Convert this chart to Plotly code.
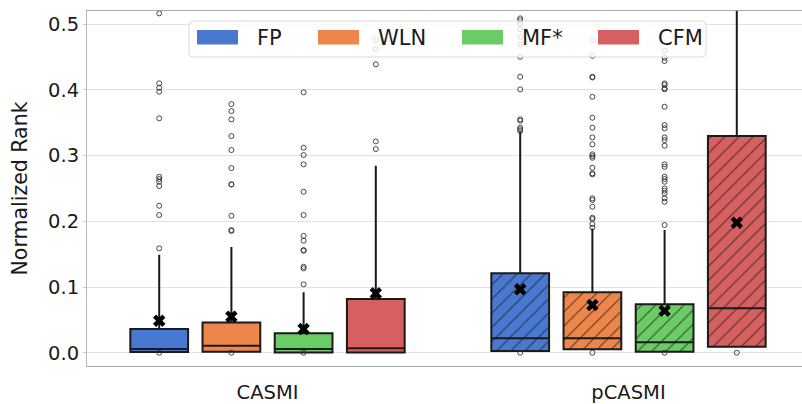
import plotly.graph_objects as go

# ---------------- data ----------------
groups = ["CASMI", "pCASMI"]
series = ["FP", "WLN", "MF*", "CFM"]
colors = ["#4878d0", "#ee854a", "#6acc64", "#d65f5f"]
y_ticks = [0.0, 0.1, 0.2, 0.3, 0.4, 0.5]

# box statistics, indexed [series][group]
q1_vals = [[0.001, 0.0026], [0.0015, 0.0052], [0.0005, 0.0015], [0.0005, 0.0091]]
median_vals = [[0.0056, 0.0219], [0.0107, 0.0219], [0.0056, 0.0158], [0.0067, 0.0676]]
q3_vals = [[0.036, 0.1208], [0.046, 0.0919], [0.0295, 0.0737], [0.0817, 0.3298]]
lower_whisker = [[0.001, 0.0026], [0.0015, 0.0052], [0.0005, 0.0015], [0.0005, 0.0091]]
upper_whisker = [[0.149, 0.3364], [0.161, 0.1893], [0.092, 0.1868], [0.2846, 0.85]]
mean_vals = [[0.0487, 0.0965], [0.0548, 0.0726], [0.036, 0.0639], [0.0904, 0.1979]]

fp_outliers = [
    [0.0, 0.1589, 0.2096, 0.2237, 0.2538, 0.2603, 0.2644, 0.2679, 0.3568, 0.3973, 0.4034, 0.4101, 0.5166],
    [0.0, 0.3375, 0.34, 0.3425, 0.3531, 0.3553, 0.4009, 0.42, 0.4505, 0.4693, 0.481, 0.4925, 0.501, 0.506, 0.509],
]
wln_outliers = [
    [0.0, 0.1853, 0.1868, 0.2085, 0.2563, 0.2563, 0.2811, 0.3085, 0.3298, 0.3552, 0.3678, 0.3785],
    [0.0, 0.1903, 0.1959, 0.2035, 0.2055, 0.2222, 0.2324, 0.235, 0.2715, 0.2731, 0.2816, 0.2968,
     0.2994, 0.302, 0.3172, 0.3278, 0.3425, 0.3577, 0.3896, 0.419, 0.42, 0.452, 0.476],
]
mf_outliers = [
    [0.0, 0.1041, 0.1284, 0.1309, 0.1553, 0.1563, 0.1705, 0.178, 0.2096, 0.245, 0.2867, 0.3009, 0.312, 0.3963],
    [0.0, 0.1944, 0.2298, 0.235, 0.2426, 0.2466, 0.2502, 0.2603, 0.2644, 0.2679, 0.2831, 0.2868, 0.3151,
     0.3237, 0.3278, 0.3415, 0.3466, 0.3744, 0.401, 0.4024, 0.4075, 0.41, 0.444, 0.449, 0.4597],
]
cfm_outliers = [
    [0.31, 0.3217, 0.439, 0.4623, 0.476],
    [0.0],
]
outliers = [fp_outliers, wln_outliers, mf_outliers, cfm_outliers]
hatches = ["", "/"]  # per group

# ---------------- layout constants ----------------
W, H = 802, 404
ML, MR, MT, MB = 87, 0, 11, 38
PW, PH = W - ML - MR, H - MT - MB
UNIT_PX = 361.0          # pixels per category unit
SLOT = 0.2
BOX_W = 0.16
offsets = [(i - (len(series) - 1) / 2) * SLOT for i in range(len(series))]
FONT = "DejaVu Sans"
TXT = "#1a1a1a"


def pxx(v):
    return (v - ML) / PW


def pxy(v):
    return (H - MB - v) / PH


fig = go.Figure()

# fills (with hatching for second group)
for i, name in enumerate(series):
    xs = [g + offsets[i] for g in range(len(groups))]
    fig.add_trace(go.Bar(
        x=xs, y=[q3_vals[i][g] - q1_vals[i][g] for g in range(len(groups))],
        base=q1_vals[i], width=BOX_W, showlegend=False, hoverinfo="skip",
        marker=dict(color=colors[i], line=dict(width=0),
                    pattern=dict(shape=hatches, size=10, solidity=0.1,
                                 fgcolor="#222222", fgopacity=0.8, fillmode="overlay")),
    ))

# box outlines, medians, whiskers
for i, name in enumerate(series):
    xs = [g + offsets[i] for g in range(len(groups))]
    fig.add_trace(go.Box(
        x=xs, q1=q1_vals[i], median=median_vals[i], q3=q3_vals[i],
        lowerfence=lower_whisker[i], upperfence=upper_whisker[i],
        width=BOX_W, whiskerwidth=0, boxpoints=False, name=name, showlegend=False,
        fillcolor="rgba(0,0,0,0)", line=dict(color="#1a1a1a", width=2),
    ))

# outliers
for i, name in enumerate(series):
    ox, oy = [], []
    for g in range(len(groups)):
        ox += [g + offsets[i]] * len(outliers[i][g])
        oy += outliers[i][g]
    fig.add_trace(go.Scatter(
        x=ox, y=oy, mode="markers", showlegend=False, hoverinfo="y",
        marker=dict(symbol="circle-open", size=5, color="#333333", line=dict(width=0.9)),
    ))

# means
for i, name in enumerate(series):
    xs = [g + offsets[i] for g in range(len(groups))]
    fig.add_trace(go.Scatter(
        x=xs, y=mean_vals[i], mode="markers", showlegend=False,
        marker=dict(symbol="x", size=11, color="black", line=dict(width=0)),
    ))

# ---------------- manual legend (matplotlib style patches) ----------------
shapes = []
annotations = []
lx0, ly0, lx1, ly1, r = 189, 21, 706, 57, 4
rx, ry = r / PW, r / PH
X0, X1, Y0, Y1 = pxx(lx0), pxx(lx1), pxy(ly1), pxy(ly0)
path = (f"M{X0+rx},{Y0} L{X1-rx},{Y0} Q{X1},{Y0} {X1},{Y0+ry} L{X1},{Y1-ry} "
        f"Q{X1},{Y1} {X1-rx},{Y1} L{X0+rx},{Y1} Q{X0},{Y1} {X0},{Y1-ry} "
        f"L{X0},{Y0+ry} Q{X0},{Y0} {X0+rx},{Y0} Z")
shapes.append(dict(type="path", xref="paper", yref="paper", path=path, layer="above",
                   fillcolor="rgba(255,255,255,0.8)", line=dict(color="#d9d9d9", width=1)))
patch_x = [197, 318, 462, 598]
text_x = [255, 376, 520, 656]
for i, name in enumerate(series):
    shapes.append(dict(type="rect", xref="paper", yref="paper", layer="above",
                       x0=pxx(patch_x[i]), x1=pxx(patch_x[i] + 41),
                       y0=pxy(44.5), y1=pxy(30), fillcolor=colors[i], line=dict(width=0)))
    annotations.append(dict(xref="paper", yref="paper", x=pxx(text_x[i]), y=pxy(37.5),
                            text=name, showarrow=False, xanchor="left", yanchor="middle",
                            font=dict(family=FONT, size=21, color=TXT)))

fig.update_layout(
    width=W, height=H, margin=dict(l=ML, r=MR, t=MT, b=MB, pad=0, autoexpand=False),
    paper_bgcolor="white", plot_bgcolor="white",
    barmode="overlay", boxmode="overlay", showlegend=False,
    font=dict(family=FONT, size=19.5, color=TXT),
    shapes=shapes, annotations=annotations,
    xaxis=dict(range=[-0.5, -0.5 + PW / UNIT_PX], tickvals=list(range(len(groups))),
               ticktext=groups, showgrid=False, zeroline=False, showline=True,
               linecolor="#a8a8a8", linewidth=1, mirror=True,
               ticks="outside", ticklen=9, tickcolor="rgba(0,0,0,0)",
               tickfont=dict(size=19.5), fixedrange=True, automargin=False),
    yaxis=dict(range=[-0.0202, 0.5202], tickvals=y_ticks, tickformat=".1f",
               showgrid=True, gridcolor="#e2e2e2", gridwidth=1, zeroline=False,
               showline=True, linecolor="#b8b8b8", linewidth=1,
               ticks="outside", ticklen=3, tickcolor="#c8c8c8",
               title=dict(text="Normalized Rank", font=dict(size=20.5), standoff=14),
               tickfont=dict(size=19.5), fixedrange=True, automargin=False),
)

fig.write_html(
    "out.html",
    config={"displayModeBar": False},
    post_script="document.body.style.margin='0';document.body.style.padding='0';",
)
